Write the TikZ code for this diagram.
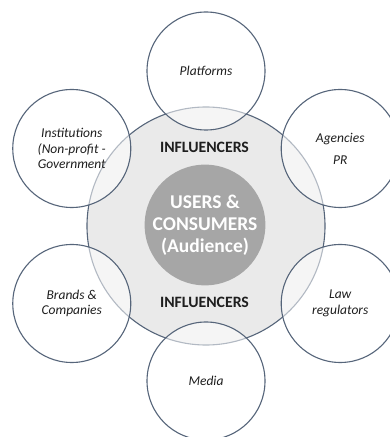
\documentclass[tikz,border=0pt]{standalone}
\usepackage{fontspec}
\setmainfont{Carlito}
\usetikzlibrary{calc}
\definecolor{ringline}{HTML}{56657A}
\definecolor{ringfill}{HTML}{EAEAEA}
\definecolor{corefill}{HTML}{A6A6A6}
\definecolor{labeltext}{HTML}{1E1E1E}
\tikzset{
  actor/.style={circle, draw=ringline, line width=1.1pt, minimum size=118pt,
    inner sep=0pt, fill=white, fill opacity=0.55, text opacity=1,
    text=labeltext, align=center,
    font=\itshape\fontsize{13.5}{15.5}\selectfont},
  inftext/.style={text=labeltext, font=\bfseries\fontsize{15.8}{18}\selectfont},
}
\begin{document}
\begin{tikzpicture}[x=1pt,y=1pt]
  \useasboundingbox (0,0) rectangle (390,437);
  \clip (0,0) rectangle (390,437);
  \fill[white] (0,0) rectangle (390,437);
  % influencer ring and audience core
  \node[circle, draw=ringline, line width=1.1pt, fill=ringfill,
        minimum size=238pt, inner sep=0pt] (ring) at (206,211) {};
  \node[circle, fill=corefill, minimum size=118pt, inner sep=0pt,
        text=white, align=center,
        font=\bfseries\fontsize{19.5}{22}\selectfont] (core) at (205,212)
        {USERS \&\\CONSUMERS\\(Audience)};
  \node[inftext] (inftop) at (204.5,290) {INFLUENCERS};
  \node[inftext] (infbot) at (204.5,135) {INFLUENCERS};
  % surrounding actors on a hexagon around the ring
  \node[actor] (platforms) at ($(206,211)+(90:155)$) {Platforms};
  \node[actor] (institutions) at ($(206,211)+(150:155)$)
        {Institutions\\(Non-profit -\\Government};
  \node[actor] (agencies) at ($(206,211)+(30:155)$) {Agencies\\[6.5pt]PR};
  \node[actor] (brands) at ($(206,211)+(210:155)$) {Brands \&\\Companies};
  \node[actor] (law) at ($(206,211)+(330:155)$) {Law\\regulators};
  \node[actor] (media) at ($(206,211)+(270:155)$) {Media};
\end{tikzpicture}
\end{document}
